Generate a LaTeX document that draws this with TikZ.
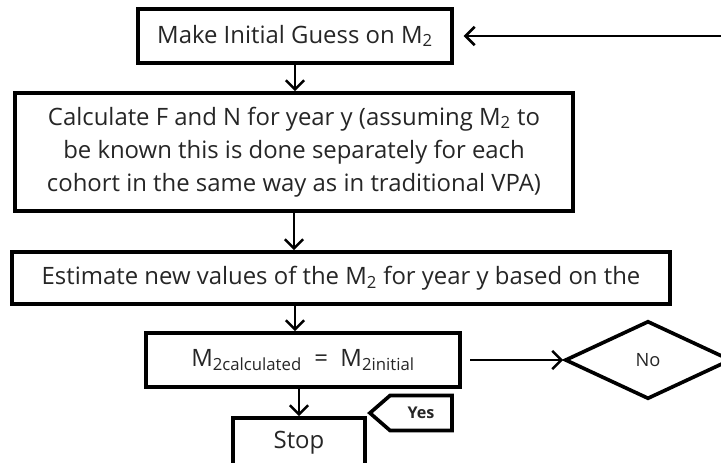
\documentclass[tikz,border=0pt]{standalone}
\usepackage{fontspec}
\setmainfont{Open Sans}
\usetikzlibrary{arrows.meta, positioning, shapes.geometric, shapes.symbols}

\tikzset{
  stepbox/.style={draw, line width=2.6pt, align=center, text=black!85, inner sep=0pt},
  flow/.style={-{Straight Barb[length=6.5pt, width=13pt]}, line width=1.8pt},
}

\begin{document}
\begin{tikzpicture}[x=0.025cm, y=-0.025cm, font=\fontsize{17}{23.5}\selectfont]
\useasboundingbox (0,0) rectangle (721,462);

\node[stepbox, minimum width=7.85cm, minimum height=1.35cm] (guess) at (295,36) {Make Initial Guess on M\textsubscript{2}};
\node[stepbox, minimum width=13.95cm, minimum height=2.95cm] (calc) at (294,152)
  {Calculate F and N for year y (assuming M\textsubscript{2} to\\
   be known this is done separately for each\\
   cohort in the same way as in traditional VPA)};
\node[stepbox, minimum width=16.45cm, minimum height=1.3cm] (est) at (341,278)
  {Estimate new values of the M\textsubscript{2} for year y based on the};
\node[stepbox, minimum width=7.85cm, minimum height=1.35cm] (check) at (303,360)
  {M\textsubscript{2calculated} \ = \ M\textsubscript{2initial}};
\node[stepbox, diamond, minimum width=4.15cm, minimum height=1.95cm, font=\fontsize{13}{15}\selectfont] (no) at (648,360) {No};
\node[stepbox, minimum width=3.3cm, minimum height=1.25cm] (stop) at (299,443) {Stop};
\node[stepbox, signal, signal to=west, signal pointer angle=82, minimum width=2.05cm, minimum height=0.875cm,
  font=\bfseries\fontsize{11.5}{13}\selectfont] (yes) at (421,413) {Yes};

\coordinate (loopin) at (740,36);

\draw[flow, shorten >=7pt] (loopin) -- (guess.east);
\draw[flow] (guess.south) -- (guess.south |- calc.north);
\draw[flow] (calc.south) -- (calc.south |- est.north);
\draw[flow] ([xshift=-0.2cm]check.north |- est.south) -- ([xshift=-0.2cm]check.north);
\draw[flow, shorten <=6pt] (check.east) -- (no.west);
\draw[flow] (stop.north |- check.south) -- (stop.north);
\end{tikzpicture}
\end{document}
